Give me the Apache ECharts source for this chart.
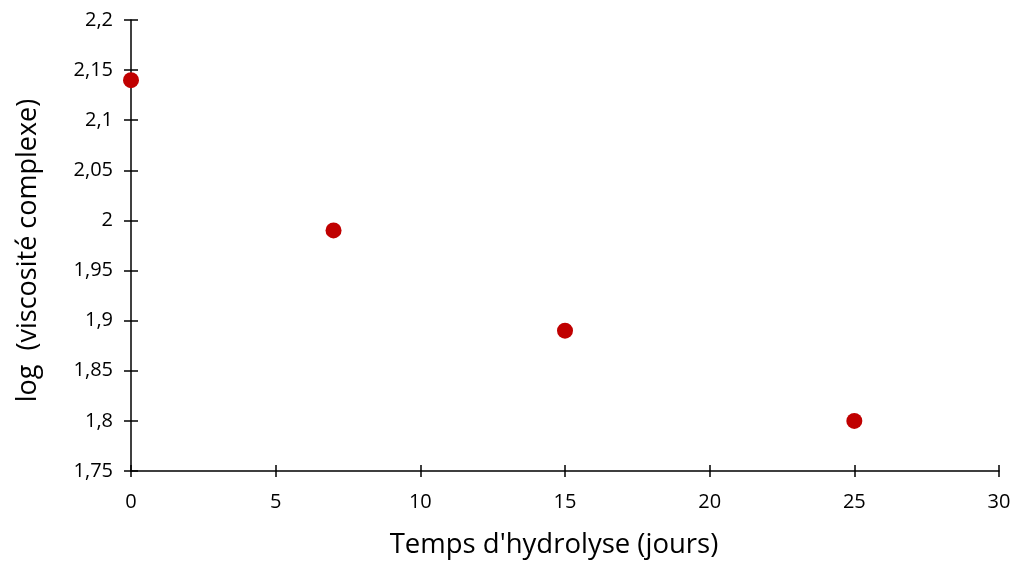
<!DOCTYPE html>
<html><head><meta charset="utf-8">
<script src="https://cdn.jsdelivr.net/npm/echarts@6/dist/echarts.min.js"></script>
<style>html,body{margin:0;padding:0;background:#fff}#c{width:1014px;height:563px}</style>
</head><body><div id="c"></div>
<script>
const days = [0, 7, 15, 25];
const logViscosity = [2.14, 1.99, 1.89, 1.80];
const xTitle = "Temps d'hydrolyse (jours)";
const yTitle = "log  (viscosité complexe)";

const font = "Open Sans";
const pts = days.map((d, i) => [d, logViscosity[i]]);
const fmtY = v => (Math.round(v * 100) / 100).toString().replace('.', ',');

const baseX = {type: 'value', min: 0, max: 30, interval: 5, splitLine: {show: false}};
const baseY = {type: 'value', min: 1.75, max: 2.2, interval: 0.05, splitLine: {show: false}};

const chart = echarts.init(document.getElementById('c'));
chart.setOption({
  animation: false,
  grid: {left: 131, right: 15, top: 20, bottom: 92, containLabel: false, outerBoundsMode: 'none'},
  xAxis: [
    Object.assign({}, baseX, {
      position: 'bottom',
      name: xTitle, nameLocation: 'middle', nameGap: 60,
      nameTextStyle: {fontFamily: font, fontSize: 27.5, color: '#000', padding: [0, 22, 0, 0]},
      axisLine: {show: true, onZero: false, lineStyle: {color: '#000', width: 1.5}},
      axisTick: {show: true, inside: false, length: 6, lineStyle: {color: '#000', width: 1.5}},
      axisLabel: {fontFamily: font, fontSize: 20, color: '#000', margin: 21}
    }),
    Object.assign({}, baseX, {
      position: 'bottom',
      axisLine: {show: false},
      axisTick: {show: true, inside: true, length: 6, lineStyle: {color: '#000', width: 1.5}},
      axisLabel: {show: false}
    })
  ],
  yAxis: [
    Object.assign({}, baseY, {
      position: 'left',
      name: yTitle, nameLocation: 'middle', nameGap: 89, nameRotate: 90,
      nameTextStyle: {fontFamily: font, fontSize: 27, color: '#000', padding: [0, 10, 0, 0]},
      axisLine: {show: true, onZero: false, lineStyle: {color: '#000', width: 1.5}},
      axisTick: {show: true, inside: false, length: 7, lineStyle: {color: '#000', width: 1.5}},
      axisLabel: {fontFamily: font, fontSize: 20, color: '#000', margin: 18, formatter: fmtY}
    }),
    Object.assign({}, baseY, {
      position: 'left',
      axisLine: {show: false},
      axisTick: {show: true, inside: true, length: 7, lineStyle: {color: '#000', width: 1.5}},
      axisLabel: {show: false}
    })
  ],
  series: [{
    type: 'scatter',
    data: pts,
    symbolSize: 16,
    itemStyle: {color: '#C00000', opacity: 1},
    xAxisIndex: 0, yAxisIndex: 0
  }]
});
</script></body></html>
